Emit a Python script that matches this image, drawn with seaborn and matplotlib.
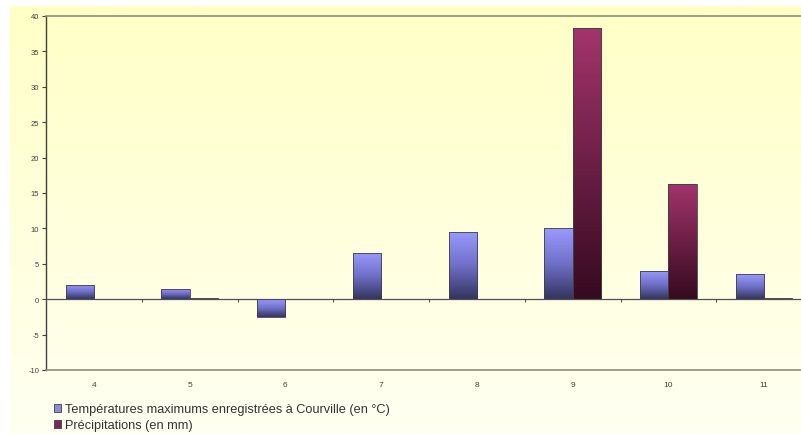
import numpy as np
import pandas as pd
import matplotlib.pyplot as plt
import seaborn as sns
from matplotlib.colors import LinearSegmentedColormap

# data
days = ["4", "5", "6", "7", "8", "9", "10", "11"]
temperatures = [2.0, 1.5, -2.5, 6.5, 9.5, 10.0, 4.0, 3.5]
precipitations = [0.0, 0.1, 0.0, 0.0, 0.0, 38.3, 16.3, 0.1]
series_names = ["Températures maximums enregistrées à Courville (en °C)",
                "Précipitations (en mm)"]
y_ticks = list(range(-10, 45, 5))

df = pd.DataFrame({
    "Jour": days * 2,
    "Valeur": temperatures + precipitations,
    "Série": [series_names[0]] * len(days) + [series_names[1]] * len(days),
})

sns.set_style("white")
plt.rcParams["font.family"] = ["Liberation Sans", "DejaVu Sans"]

fig = plt.figure(figsize=(8.01, 4.35), dpi=100)
fig.patch.set_facecolor("white")

# yellow gradient background panel
bg = fig.add_axes([10 / 801, 0, 1, 1 - 7 / 435], zorder=-2)
bg_cmap = LinearSegmentedColormap.from_list("bg", ["#FFFFC6", "#FFFFF2"])
bg.imshow(np.linspace(0, 1, 256).reshape(-1, 1), aspect="auto", cmap=bg_cmap,
          extent=[0, 1, 0, 1])
bg.set_axis_off()

ax = fig.add_axes([46 / 801, 1 - 371 / 435, 766 / 801, 354 / 435])
ax.set_facecolor("none")

palette = {series_names[0]: "#8080E0", series_names[1]: "#802050"}
sns.barplot(data=df, x="Jour", y="Valeur", hue="Série", order=days,
            hue_order=series_names, palette=palette, width=0.59,
            edgecolor="#404040", linewidth=0.6, ax=ax, legend=True)

# gradient fill inside each bar
grads = {
    series_names[0]: LinearSegmentedColormap.from_list("t", ["#34345F", "#7070C8", "#9A9AFF"]),
    series_names[1]: LinearSegmentedColormap.from_list("p", ["#360A20", "#A3346C"]),
}
bars = ax.patches[:2 * len(days)]
grad_img = np.linspace(0, 1, 128).reshape(-1, 1)
for i, patch in enumerate(bars):
    name = series_names[i // len(days)]
    x0, y0 = patch.get_x(), patch.get_y()
    w, h = patch.get_width(), patch.get_height()
    if abs(h) < 0.3:
        continue
    lo, hi = min(y0, y0 + h), max(y0, y0 + h)
    im = ax.imshow(grad_img, aspect="auto", cmap=grads[name], origin="lower",
                   extent=[x0, x0 + w, lo, hi], zorder=patch.get_zorder() + 0.1)
    im.set_clip_path(patch)
    patch.set_zorder(patch.get_zorder() + 0.2)
    patch.set_facecolor("none")
ax.set_xlim(-0.5, len(days) - 0.5)
ax.set_ylim(-10, 40)

# zero line with category separators
ax.axhline(0, color="#505050", linewidth=0.9, zorder=5)
ax.vlines(np.arange(-0.5, len(days)), -0.45, 0, color="#505050", linewidth=0.8, zorder=5)

ax.set_yticks(y_ticks)
ax.set_yticklabels([str(v) for v in y_ticks], fontsize=5.5, color="#404040")
ax.tick_params(axis="y", direction="out", length=3, width=0.8, color="#404040", pad=2, left=True)
ax.tick_params(axis="x", length=0, pad=8, labelsize=6, labelcolor="#404040")
ax.set_xlabel("")
ax.set_ylabel("")

for side in ["top", "bottom"]:
    ax.spines[side].set_color("#8E8E7E")
    ax.spines[side].set_linewidth(1.2)
ax.spines["left"].set_color("#404040")
ax.spines["left"].set_linewidth(1.0)
ax.spines["right"].set_visible(False)

handles, labels = ax.get_legend_handles_labels()
ax.get_legend().remove()
fig.legend(handles, labels, loc="upper left",
           bbox_to_anchor=(48 / 801, 1 - 398 / 435), frameon=False,
           fontsize=9.2, handlelength=0.55, handleheight=0.55,
           handletextpad=0.25, labelspacing=0.3, borderpad=0,
           labelcolor="#333333")

fig.savefig("out.png", dpi=100)
plt.close(fig)
